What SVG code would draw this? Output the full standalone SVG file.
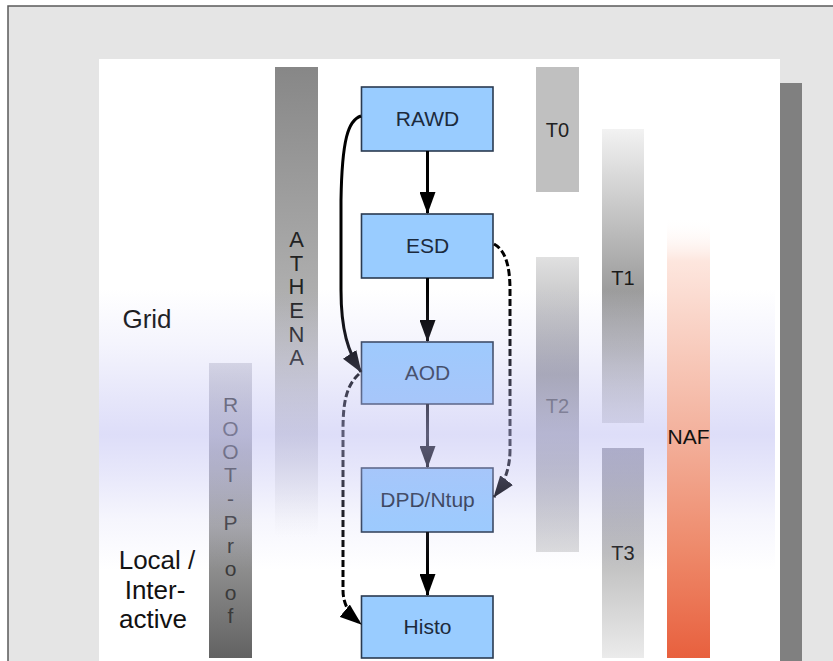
<svg xmlns="http://www.w3.org/2000/svg" width="833" height="661" viewBox="0 0 833 661">
<defs>
<style>
.node rect{fill:#99ccff;stroke:#2a3a50;stroke-width:1.6}
.node text{font-family:"Liberation Sans",Arial,sans-serif;font-size:21px;fill:#1c2a3c;text-anchor:middle}
.lbl{font-family:"Liberation Sans",Arial,sans-serif;text-anchor:middle}
.edge{fill:none;stroke:#000;stroke-width:3}
.dash{stroke-dasharray:7 3}
</style>
<marker id="ah" viewBox="0 0 22 16" refX="21" refY="8" markerWidth="22" markerHeight="16" markerUnits="userSpaceOnUse" orient="auto">
<path d="M0,0 L22,8 L0,16 Z" fill="#000"/>
</marker>
<linearGradient id="gAth" x1="0" y1="0" x2="0" y2="1">
<stop offset="0" stop-color="#878787"/>
<stop offset="0.5" stop-color="#b0b0b0"/>
<stop offset="0.78" stop-color="#cacaca" stop-opacity="0.8"/>
<stop offset="1" stop-color="#e4e4e4" stop-opacity="0"/>
</linearGradient>
<linearGradient id="gRoot" x1="0" y1="0" x2="0" y2="1">
<stop offset="0" stop-color="#dadae0"/>
<stop offset="0.3" stop-color="#ababb2"/>
<stop offset="0.55" stop-color="#a2a2a2"/>
<stop offset="1" stop-color="#626262"/>
</linearGradient>
<linearGradient id="gT2" x1="0" y1="0" x2="0" y2="1">
<stop offset="0" stop-color="#e0e0e0"/>
<stop offset="0.4" stop-color="#a0a0a4"/>
<stop offset="0.7" stop-color="#b6b6b8"/>
<stop offset="1" stop-color="#dcdcdc"/>
</linearGradient>
<linearGradient id="gT1" x1="0" y1="0" x2="0" y2="1">
<stop offset="0" stop-color="#f2f2f2"/>
<stop offset="0.55" stop-color="#9c9c9c"/>
<stop offset="0.75" stop-color="#b4b4b4"/>
<stop offset="1" stop-color="#dcdcdc"/>
</linearGradient>
<linearGradient id="gT3" x1="0" y1="0" x2="0" y2="1">
<stop offset="0" stop-color="#a0a0a8"/>
<stop offset="0.5" stop-color="#bdbdbd"/>
<stop offset="1" stop-color="#ebebeb"/>
</linearGradient>
<linearGradient id="gNaf" x1="0" y1="0" x2="0" y2="1">
<stop offset="0" stop-color="#ffffff" stop-opacity="0"/>
<stop offset="0.1" stop-color="#fde6de"/>
<stop offset="0.5" stop-color="#f3b09b"/>
<stop offset="0.75" stop-color="#ee8a6b"/>
<stop offset="1" stop-color="#e8603e"/>
</linearGradient>
<linearGradient id="gBand" x1="0" y1="0" x2="0" y2="1">
<stop offset="0" stop-color="#bcbcf2" stop-opacity="0"/>
<stop offset="0.2" stop-color="#bcbcf2" stop-opacity="0.16"/>
<stop offset="0.4" stop-color="#bcbcf2" stop-opacity="0.38"/>
<stop offset="0.52" stop-color="#bcbcf2" stop-opacity="0.5"/>
<stop offset="0.65" stop-color="#bcbcf2" stop-opacity="0.36"/>
<stop offset="0.82" stop-color="#bcbcf2" stop-opacity="0.14"/>
<stop offset="1" stop-color="#bcbcf2" stop-opacity="0"/>
</linearGradient>
</defs>

<rect x="0" y="0" width="833" height="661" fill="#ffffff"/>
<rect x="8" y="6" width="840" height="670" fill="#e5e5e5" stroke="#5a5a5a" stroke-width="1.5"/>
<rect x="99" y="59" width="681" height="610" fill="#ffffff"/>
<rect x="780" y="83" width="22" height="600" fill="#808080"/>

<g id="grid-label"><text class="lbl" x="147" y="328" font-size="26" fill="#111">Grid</text></g>
<g id="local-label">
<text class="lbl" x="157" y="569" font-size="26" fill="#111">Local /</text>
<text class="lbl" x="155" y="599" font-size="26" fill="#111">Inter-</text>
<text class="lbl" x="153" y="628" font-size="26" fill="#111">active</text>
</g>

<g id="athena">
<rect x="275" y="67" width="43" height="470" fill="url(#gAth)"/>
<g class="lbl" font-size="22" fill="#222">
<text x="296.5" y="247">A</text>
<text x="296.5" y="270.5">T</text>
<text x="296.5" y="294">H</text>
<text x="296.5" y="318">E</text>
<text x="296.5" y="342">N</text>
<text x="296.5" y="365">A</text>
</g>
</g>

<g id="root-proof">
<rect x="209" y="363" width="43" height="295" fill="url(#gRoot)"/>
<g class="lbl" font-size="21" fill="#3a3a3a">
<text x="230.5" y="412">R</text>
<text x="230.5" y="435.5">O</text>
<text x="230.5" y="459">O</text>
<text x="230.5" y="482">T</text>
<text x="230.5" y="505.5">-</text>
<text x="230.5" y="529.5">P</text>
<text x="230.5" y="553">r</text>
<text x="230.5" y="576">o</text>
<text x="230.5" y="599.5">o</text>
<text x="230.5" y="623">f</text>
</g>
</g>

<g id="t0">
<rect x="536" y="67" width="43" height="125" fill="#c0c0c0"/>
<text class="lbl" x="557.5" y="137" font-size="20" fill="#222">T0</text>
</g>
<g id="t2">
<rect x="536" y="257" width="43" height="295" fill="url(#gT2)"/>
<text class="lbl" x="557.5" y="413" font-size="20" fill="#555">T2</text>
</g>
<g id="t1">
<rect x="602" y="129" width="42" height="294" fill="url(#gT1)"/>
<text class="lbl" x="623" y="285" font-size="20" fill="#1a1a1a">T1</text>
</g>
<g id="t3">
<rect x="602" y="448" width="42" height="210" fill="url(#gT3)"/>
<text class="lbl" x="623" y="560" font-size="20" fill="#222">T3</text>
</g>

<g id="RAWD" class="node"><rect x="361.5" y="87" width="131.5" height="64"/><text x="427.5" y="126">RAWD</text></g>
<g id="ESD" class="node"><rect x="361.5" y="214" width="131.5" height="64"/><text x="427.5" y="253">ESD</text></g>
<g id="AOD" class="node"><rect x="361.5" y="342" width="131.5" height="62"/><text x="427.5" y="380">AOD</text></g>
<g id="DPD" class="node"><rect x="361.5" y="468" width="131.5" height="64"/><text x="427.5" y="507">DPD/Ntup</text></g>
<g id="Histo" class="node"><rect x="361.5" y="596" width="131.5" height="62"/><text x="427.5" y="634">Histo</text></g>

<g id="connectors">
<path class="edge" d="M427.5,151 L427.5,213" marker-end="url(#ah)"/>
<path class="edge" d="M427.5,278 L427.5,341" marker-end="url(#ah)"/>
<path class="edge" d="M427.5,404 L427.5,467" marker-end="url(#ah)"/>
<path class="edge" d="M427.5,532 L427.5,595" marker-end="url(#ah)"/>
<path class="edge" d="M361,116 C348,120 342,140 341,200 L341,290 C341,330 348,352 361,372" marker-end="url(#ah)"/>
<path class="edge dash" d="M359,374 C347,385 343,400 343,430 L343,590 C343,605 350,615 361,624" marker-end="url(#ah)"/>
<path class="edge dash" d="M494,244 C505,250 510,265 510,290 L510,450 C510,470 503,485 494,497" marker-end="url(#ah)"/>
</g>

<rect id="band" x="99" y="288" width="676" height="282" fill="url(#gBand)"/>

<g id="naf">
<rect x="667" y="217" width="43" height="441" fill="url(#gNaf)"/>
<text class="lbl" x="688.5" y="444" font-size="21" fill="#111">NAF</text>
</g>
</svg>
